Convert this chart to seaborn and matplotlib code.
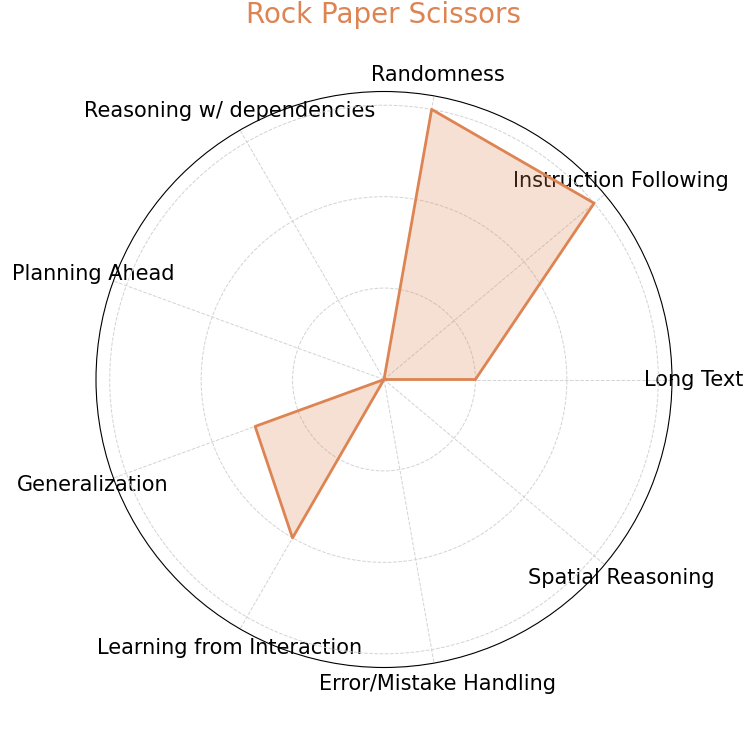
import numpy as np
import matplotlib
matplotlib.use("Agg")
import matplotlib.pyplot as plt
import seaborn as sns

categories = ["Long Text", "Instruction Following", "Randomness",
              "Reasoning w/ dependencies", "Planning Ahead", "Generalization",
              "Learning from Interaction", "Error/Mistake Handling",
              "Spatial Reasoning"]
values = [0.333, 1.0, 1.0, 0.0, 0.0, 0.5, 0.667, 0.0, 0.0]
title = "Rock Paper Scissors"

sns.set_style("white")
plt.rcParams["font.family"] = ["DejaVu Sans"]
color = sns.color_palette("deep")[1]

angles = np.linspace(0, 2 * np.pi, len(categories), endpoint=False).tolist()
vals = values + values[:1]
angs = angles + angles[:1]

fig = plt.figure(figsize=(7.5, 7.5), dpi=100)
ax = fig.add_axes([0.128, 0.11, 0.768, 0.768], polar=True)

ax.plot(angs, vals, color=color, linewidth=2)
ax.fill(angs, vals, color=color, alpha=0.25)

ax.set_ylim(0, 1.05)
ax.set_yticks([1 / 3, 2 / 3, 1.0])
ax.set_yticklabels([])
ax.set_xticks(angles)
ax.set_xticklabels(categories, fontsize=15, color="black")
ax.tick_params(axis="x", pad=5)
ax.grid(True, color="lightgray", linestyle="--", linewidth=0.7)
ax.spines["polar"].set_color("black")
ax.spines["polar"].set_linewidth(0.8)

fig.text(0.512, 0.98, title, color=color, fontsize=20, ha="center", va="center")

fig.savefig("out.png", dpi=100)
